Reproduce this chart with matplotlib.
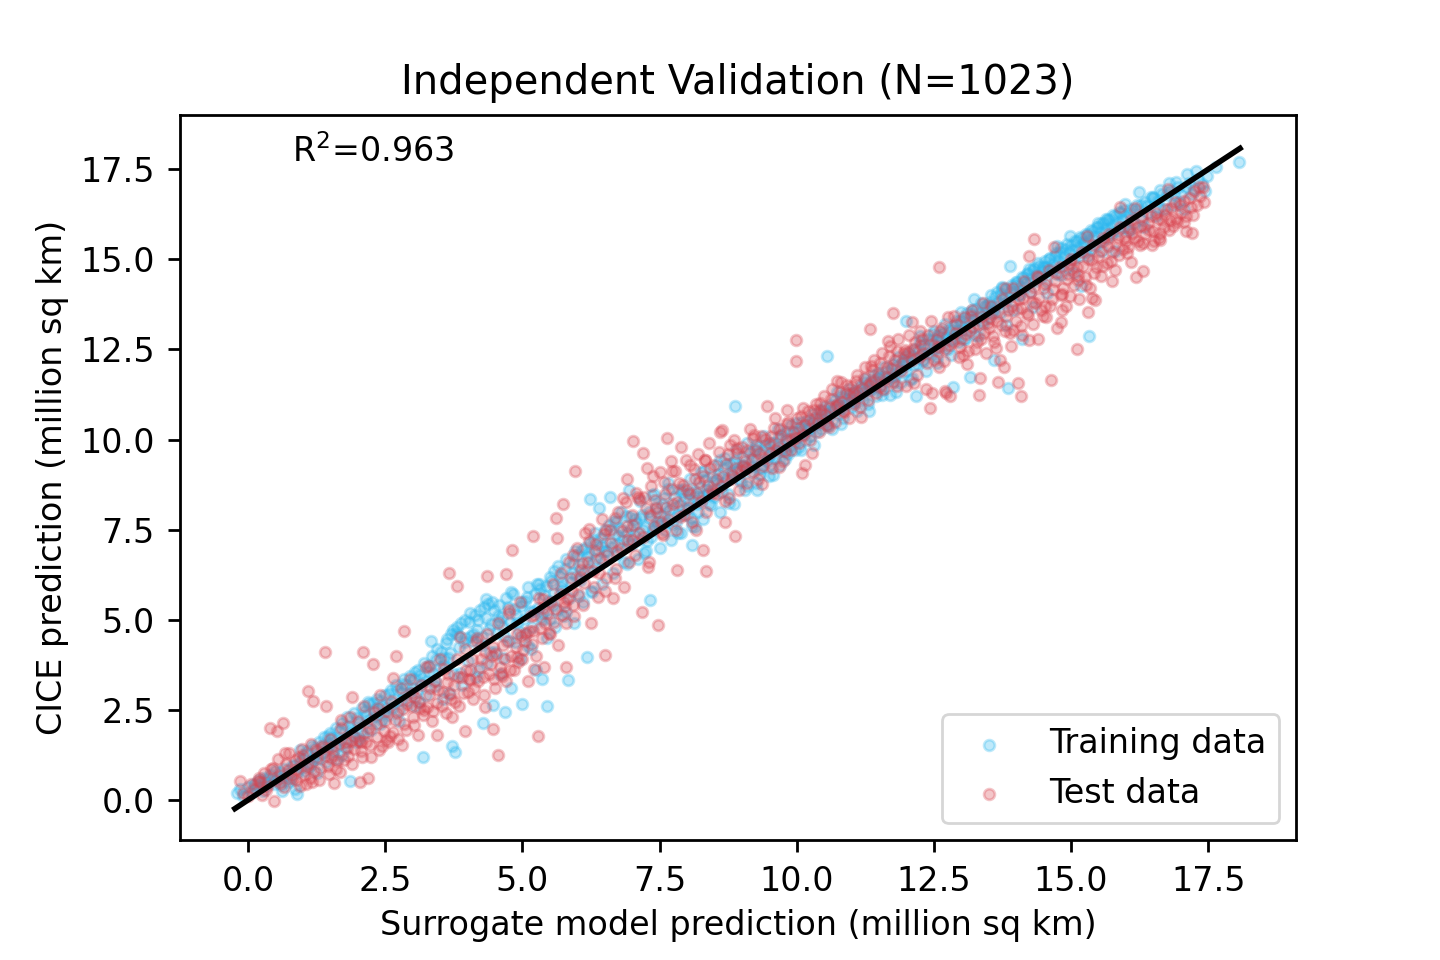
import numpy as np
import matplotlib
matplotlib.use("Agg")
from matplotlib import pyplot as plt

# points (surrogate, CICE), million sq km
train_points = [
    (-0.2, 0.19), (-0.15, 0.3), (-0.1, 0.12), (0.0, 0.35), (0.05, 0.22), (0.1, 0.45), (0.15, 0.3),
    (0.2, 0.55), (0.25, 0.38), (0.3, 0.62), (0.35, 0.45), (0.4, 0.7), (0.45, 0.52), (0.5, 0.8),
    (0.55, 0.6), (0.6, 0.42), (0.65, 0.85), (0.7, 0.68), (0.75, 0.5), (0.8, 0.95), (0.85, 0.3),
    (0.89, 0.17), (0.9, 0.75), (0.95, 1.05),
    (1.0, 1.15), (1.03, 0.8), (1.08, 1.35), (1.12, 0.95), (1.17, 1.5), (1.2, 1.2), (1.25, 0.75),
    (1.3, 1.6), (1.33, 1.3), (1.38, 1.75), (1.42, 1.05), (1.47, 1.55), (1.5, 1.85), (1.55, 1.35),
    (1.6, 2.0), (1.63, 1.15), (1.68, 1.7), (1.72, 2.15), (1.77, 1.45), (1.8, 2.3), (1.86, 0.53),
    (1.88, 1.9), (1.93, 2.4), (1.97, 1.6), (2.02, 2.15), (2.07, 2.55), (2.1, 1.8), (2.15, 2.35),
    (2.2, 2.65), (2.24, 1.95), (2.3, 2.5), (2.35, 2.8), (2.4, 2.1), (2.45, 2.6),
    (2.5, 2.9), (2.55, 2.35), (2.6, 3.05), (2.65, 2.7), (2.7, 3.2), (2.75, 2.5), (2.8, 3.0),
    (2.85, 3.35), (2.9, 2.75), (2.95, 3.45), (3.0, 3.1), (3.05, 2.6), (3.1, 3.6), (3.15, 3.25),
    (3.19, 1.19), (3.2, 3.8), (3.25, 2.9), (3.3, 3.55), (3.35, 4.0), (3.4, 3.3), (3.45, 4.2),
    (3.5, 3.7), (3.55, 2.8), (3.6, 4.35), (3.65, 3.95), (3.7, 4.6), (3.77, 1.33), (3.72, 1.5),
    (3.75, 3.5), (3.8, 4.8), (3.85, 4.25), (3.9, 3.2), (3.95, 5.0), (3.98, 4.5),
    (4.0, 3.85), (4.05, 5.2), (4.1, 4.6), (4.15, 3.4), (4.2, 5.0), (4.25, 4.3), (4.28, 2.13),
    (4.3, 5.35), (4.35, 3.8), (4.4, 4.75), (4.46, 2.64), (4.45, 5.5), (4.5, 4.1), (4.55, 5.1),
    (4.6, 3.5), (4.65, 4.8), (4.68, 2.44), (4.7, 5.6), (4.75, 4.4), (4.8, 3.1), (4.85, 5.3),
    (4.9, 4.9), (4.95, 3.9), (5.0, 2.67), (5.0, 5.5), (5.05, 4.6), (5.1, 5.9), (5.15, 4.2),
    (5.2, 5.25), (5.25, 3.6), (5.3, 6.0), (5.35, 3.36), (5.35, 5.0), (5.4, 5.7), (5.44, 2.61),
    (5.45, 4.5),
    (5.5, 6.2), (5.55, 5.4), (5.6, 4.8), (5.65, 6.5), (5.7, 5.9), (5.75, 5.1), (5.8, 6.7),
    (5.83, 3.33), (5.85, 5.6), (5.9, 6.3), (5.95, 4.9), (6.0, 6.8), (6.05, 6.1), (6.1, 5.5),
    (6.15, 7.0), (6.17, 3.97), (6.2, 6.4), (6.23, 8.36), (6.25, 5.8), (6.3, 7.2), (6.35, 6.7),
    (6.4, 8.1), (6.45, 6.0), (6.5, 7.5), (6.55, 6.9), (6.6, 8.4), (6.65, 6.3), (6.7, 7.7),
    (6.75, 7.1), (6.8, 8.0), (6.85, 6.6), (6.9, 7.4), (6.95, 8.6),
    (7.0, 7.1), (7.05, 7.8), (7.1, 6.7), (7.15, 8.3), (7.2, 7.5), (7.25, 6.9), (7.3, 8.0),
    (7.32, 5.56), (7.35, 7.3), (7.4, 8.5), (7.45, 7.7), (7.5, 7.0), (7.55, 8.2), (7.6, 7.5),
    (7.65, 8.8), (7.7, 7.2), (7.75, 8.1), (7.8, 7.7), (7.85, 8.6), (7.9, 7.4), (7.95, 8.3),
    (8.0, 7.9), (8.05, 8.9), (8.09, 7.08), (8.1, 7.6), (8.15, 8.4), (8.2, 8.0), (8.25, 9.1),
    (8.3, 7.8), (8.35, 8.6), (8.4, 8.2), (8.45, 9.0),
    (8.5, 8.4), (8.55, 9.3), (8.6, 8.0), (8.65, 8.8), (8.7, 9.5), (8.75, 8.5), (8.8, 9.1),
    (8.85, 8.2), (8.87, 10.93), (8.9, 9.7), (8.95, 8.9), (9.0, 9.3), (9.05, 8.6), (9.1, 9.9),
    (9.15, 9.1), (9.2, 9.5), (9.25, 8.8), (9.27, 8.6), (9.3, 9.8), (9.35, 9.2), (9.4, 10.1),
    (9.45, 9.4), (9.5, 9.0), (9.55, 9.9), (9.6, 9.5), (9.65, 10.3), (9.7, 9.3), (9.75, 9.8),
    (9.8, 10.2), (9.85, 9.6), (9.9, 10.4), (9.95, 9.9),
    (10.0, 10.2), (10.05, 9.8), (10.1, 10.5), (10.15, 10.0), (10.2, 10.4), (10.25, 10.1),
    (10.3, 10.7), (10.35, 10.2), (10.4, 10.6), (10.45, 10.3), (10.5, 10.9), (10.56, 12.33),
    (10.55, 10.4), (10.6, 10.8), (10.65, 10.28), (10.7, 11.1), (10.75, 10.7), (10.8, 11.2),
    (10.85, 10.6), (10.9, 11.0), (10.95, 11.4), (11.0, 10.9), (11.05, 11.3), (11.1, 10.8),
    (11.15, 11.5), (11.2, 11.1), (11.25, 11.6), (11.3, 11.0), (11.35, 11.4), (11.4, 11.8),
    (11.45, 11.2),
    (11.5, 11.7), (11.55, 11.25), (11.6, 12.0), (11.65, 11.6), (11.7, 11.25), (11.75, 12.1),
    (11.8, 11.8), (11.85, 12.3), (11.9, 11.6), (11.95, 12.2), (12.0, 13.3), (12.0, 11.9),
    (12.05, 12.4), (12.1, 11.7), (12.15, 12.5), (12.18, 11.22), (12.2, 12.1), (12.25, 12.7),
    (12.3, 12.2), (12.35, 11.9), (12.4, 12.8), (12.45, 12.4), (12.5, 13.0), (12.55, 12.3),
    (12.6, 12.9), (12.65, 12.6), (12.7, 13.2), (12.75, 12.5), (12.8, 13.0), (12.84, 11.47),
    (12.85, 12.8), (12.9, 13.3), (12.95, 12.7),
    (13.0, 13.2), (13.05, 12.8), (13.1, 13.5), (13.15, 11.75), (13.15, 13.1), (13.2, 13.6),
    (13.25, 12.9), (13.3, 13.4), (13.35, 13.8), (13.4, 13.2), (13.45, 13.7), (13.5, 13.4),
    (13.55, 14.0), (13.6, 12.22), (13.6, 13.6), (13.65, 14.1), (13.7, 13.5), (13.75, 14.2),
    (13.8, 13.8), (13.85, 11.42), (13.88, 14.81), (13.9, 14.1), (13.95, 13.6), (14.0, 14.3),
    (14.05, 14.0), (14.1, 14.5), (14.11, 12.78), (14.15, 14.2), (14.2, 14.6), (14.25, 14.1),
    (14.3, 14.7), (14.35, 14.4), (14.4, 14.9), (14.45, 14.5),
    (14.5, 14.8), (14.55, 14.4), (14.6, 15.0), (14.65, 14.7), (14.7, 15.1), (14.75, 14.6),
    (14.8, 15.2), (14.85, 14.9), (14.9, 15.3), (14.95, 14.8), (15.0, 15.4), (15.05, 15.0),
    (15.1, 15.5), (15.15, 15.1), (15.19, 14.25), (15.2, 15.6), (15.25, 15.2), (15.3, 15.7),
    (15.33, 12.86), (15.35, 15.3), (15.4, 15.8), (15.45, 15.4), (15.5, 15.9), (15.55, 15.5),
    (15.6, 16.0), (15.64, 16.11), (15.65, 15.6), (15.7, 16.1), (15.75, 15.7), (15.8, 16.2),
    (15.85, 15.8), (15.9, 16.3), (15.95, 15.9),
    (16.0, 16.2), (16.05, 15.8), (16.1, 16.4), (16.15, 16.0), (16.2, 16.5), (16.3, 16.1),
    (16.35, 16.6), (16.4, 16.3), (16.5, 16.7), (16.55, 16.2), (16.65, 16.8), (16.7, 16.4),
    (16.8, 16.9), (16.85, 16.5), (16.92, 17.14), (17.0, 16.8), (17.05, 16.4), (17.1, 17.0),
    (17.2, 16.8), (17.28, 17.44), (17.39, 17.08), (17.45, 16.9), (17.65, 17.56), (18.07, 17.69),
    # dense core along the diagonal
    (0.13, 0.41), (0.27, 0.25), (0.37, 0.58), (0.48, 0.44), (0.58, 0.77), (0.69, 0.55),
    (0.77, 0.62), (0.83, 0.98), (0.97, 0.88), (1.06, 1.28), (1.14, 1.02), (1.22, 1.44),
    (1.29, 1.13), (1.36, 1.52), (1.44, 1.38), (1.52, 1.71), (1.58, 1.49), (1.66, 1.92),
    (1.74, 1.58), (1.82, 2.05), (1.91, 1.78), (1.99, 2.28), (2.06, 1.92), (2.13, 2.47),
    (2.21, 2.21), (2.27, 2.68), (2.33, 2.33), (2.41, 2.74), (2.48, 2.42), (2.57, 2.93),
    (2.63, 2.55), (2.71, 3.04), (2.79, 2.78), (2.87, 3.18), (2.93, 2.96), (3.02, 3.37),
    (3.08, 3.02), (3.13, 3.48), (3.22, 3.31), (3.28, 3.72), (3.37, 3.52), (3.43, 3.88),
    (3.52, 4.12), (3.58, 3.74), (3.63, 4.48), (3.69, 4.08), (3.74, 4.72), (3.83, 4.58),
    (3.88, 4.91), (3.93, 4.38),
    (4.03, 4.95), (4.08, 4.42), (4.13, 5.12), (4.18, 4.71), (4.23, 5.28), (4.27, 4.52),
    (4.33, 5.06), (4.38, 5.43), (4.42, 4.88), (4.48, 5.27), (4.53, 4.63), (4.58, 5.42),
    (4.63, 5.08), (4.67, 4.55), (4.73, 5.36), (4.78, 4.93), (4.83, 5.71), (4.88, 5.14),
    (4.93, 4.68), (4.98, 5.38), (5.03, 5.02), (5.08, 5.63), (5.13, 5.22), (5.18, 4.81),
    (5.23, 5.72), (5.28, 5.33), (5.33, 5.86), (5.38, 5.18), (5.43, 5.95), (5.48, 5.52),
    (5.53, 6.08), (5.58, 5.73), (5.63, 5.28), (5.68, 6.22), (5.73, 5.84), (5.78, 6.41),
    (5.88, 6.05), (5.93, 6.58), (5.98, 6.22),
    (6.03, 6.51), (6.08, 6.93), (6.13, 6.32), (6.18, 6.77), (6.24, 7.12), (6.28, 6.58),
    (6.33, 7.41), (6.38, 6.95), (6.43, 7.28), (6.48, 6.62), (6.53, 7.15), (6.58, 7.62),
    (6.63, 7.02), (6.68, 7.38), (6.73, 6.82), (6.78, 7.55), (6.83, 7.22), (6.88, 7.88),
    (6.93, 7.08), (6.98, 7.52), (7.03, 7.35), (7.08, 7.68), (7.13, 7.22), (7.18, 7.91),
    (7.23, 7.58), (7.28, 7.19), (7.33, 7.82), (7.38, 7.48), (7.43, 8.12), (7.48, 7.62),
    (7.53, 7.88), (7.58, 8.38), (7.63, 7.71), (7.68, 8.05), (7.73, 7.66), (7.78, 8.42),
    (7.83, 7.92), (7.88, 8.18), (7.93, 8.62), (7.98, 8.08), (8.03, 8.32), (8.08, 7.82),
    (8.13, 8.58), (8.18, 8.21), (8.23, 8.69), (8.28, 8.41), (8.33, 8.88), (8.38, 8.52),
    (8.43, 8.18), (8.48, 8.81), (8.53, 8.62), (8.58, 9.05), (8.63, 8.55), (8.68, 9.18),
    (8.73, 8.87), (8.78, 9.32), (8.83, 8.98), (8.88, 9.41), (8.93, 9.12), (8.98, 8.82),
    (9.03, 9.52), (9.08, 9.21), (9.13, 9.62), (9.18, 9.28), (9.23, 9.71), (9.28, 9.42),
    (9.33, 9.05), (9.38, 9.68), (9.43, 9.82), (9.48, 9.52), (9.53, 9.32), (9.58, 9.91),
    (9.63, 9.62), (9.68, 10.08), (9.73, 9.71), (9.78, 9.45), (9.83, 10.02), (9.88, 9.82),
    (9.93, 10.22), (9.97, 9.72), (10.03, 10.08), (10.08, 10.31), (10.13, 10.15), (10.18, 10.52),
    (10.23, 10.33), (10.28, 10.48), (10.33, 10.61), (10.38, 10.42), (10.43, 10.78), (10.48, 10.55),
    (10.53, 10.71), (10.58, 10.62), (10.63, 10.95), (10.68, 10.82), (10.73, 10.95), (10.78, 10.88),
    (10.83, 11.15), (10.88, 10.92), (10.93, 11.12), (10.98, 11.28), (11.03, 11.08), (11.08, 11.35),
    (11.13, 11.22), (11.18, 11.42), (11.23, 11.31), (11.28, 11.55), (11.33, 11.38), (11.38, 11.62),
    (11.43, 11.48), (11.48, 11.72), (11.53, 11.52), (11.58, 11.75), (11.63, 11.88), (11.68, 11.71),
    (11.73, 11.95), (11.78, 11.62), (11.83, 12.05), (11.88, 11.92), (11.93, 12.15), (11.98, 12.04),
    (12.03, 12.18), (12.08, 12.32), (12.13, 12.08), (12.22, 12.48), (12.27, 12.35), (12.32, 12.62),
    (12.37, 12.38), (12.42, 12.65), (12.47, 12.75), (12.52, 12.52), (12.57, 12.88), (12.62, 12.71),
    (12.67, 12.96), (12.72, 12.82), (12.77, 13.08), (12.82, 12.75), (12.87, 13.15), (12.92, 13.02),
    (12.97, 13.28), (13.02, 13.05), (13.07, 13.38), (13.12, 13.25), (13.17, 13.52), (13.22, 13.31),
    (13.27, 13.62), (13.32, 13.48), (13.37, 13.28), (13.42, 13.72), (13.47, 13.55), (13.52, 13.82),
    (13.57, 13.68), (13.62, 13.95), (13.67, 13.78), (13.72, 14.05), (13.77, 13.88), (13.82, 14.18),
    (13.87, 13.95), (13.92, 14.28), (13.97, 14.08), (14.02, 14.38), (14.07, 14.22), (14.12, 14.48),
    (14.17, 14.35), (14.22, 14.62), (14.27, 14.45), (14.32, 14.75), (14.37, 14.58), (14.42, 14.82),
    (14.47, 14.68), (14.52, 14.95), (14.57, 14.78), (14.62, 15.05), (14.67, 14.88), (14.72, 15.18),
    (14.77, 14.98), (14.82, 15.32), (14.87, 15.08), (14.92, 15.42), (14.97, 15.21),
    (15.02, 15.25), (15.07, 15.52), (15.12, 15.31), (15.17, 15.62), (15.22, 15.42), (15.27, 15.71),
    (15.32, 15.51), (15.37, 15.82), (15.42, 15.61), (15.47, 15.91), (15.52, 15.72), (15.57, 16.02),
    (15.62, 15.82), (15.67, 16.12), (15.72, 15.91), (15.77, 16.22), (15.82, 16.02), (15.87, 16.31),
    (15.92, 16.08), (15.97, 16.38), (16.08, 16.25), (16.18, 16.38), (16.28, 16.52), (16.38, 16.48),
    (16.45, 16.72), (16.58, 16.61), (16.62, 16.92), (16.75, 16.78), (16.88, 16.82), (16.95, 17.02),
    (17.15, 17.12), (17.32, 17.22),
    # wider scatter around the core
    (0.31, 0.52), (0.62, 0.26), (0.94, 1.38), (1.19, 1.11), (1.46, 1.78), (1.71, 1.24),
    (1.88, 1.98), (2.03, 1.69), (2.18, 2.72), (2.44, 2.21), (2.52, 2.56), (2.76, 2.19),
    (2.83, 3.21), (3.04, 3.55), (3.11, 2.72), (3.33, 4.41), (3.41, 3.15), (3.57, 3.95),
    (3.66, 2.98), (3.79, 4.62), (3.86, 3.52), (4.07, 4.55), (4.19, 3.62), (4.34, 5.58),
    (4.41, 4.12), (4.57, 4.96), (4.64, 3.95), (4.79, 5.78), (4.86, 4.38), (5.04, 5.52),
    (5.11, 4.27), (5.27, 5.98), (5.34, 5.08), (5.51, 5.02), (5.57, 6.35), (5.72, 6.05),
    (5.79, 5.22), (5.96, 6.92), (6.04, 5.66), (6.19, 6.84), (6.27, 5.78), (6.44, 7.05),
    (6.51, 6.92), (6.67, 7.75), (6.74, 7.32), (6.91, 6.55), (6.97, 7.86), (7.14, 7.82),
    (7.21, 6.85), (7.36, 8.45), (7.44, 7.58), (7.59, 7.92), (7.66, 8.62), (7.83, 7.42),
    (7.91, 8.55), (8.06, 8.52), (8.14, 7.58), (8.31, 9.12), (8.39, 8.48), (8.54, 8.88),
    (8.61, 9.42), (8.77, 8.25), (8.84, 9.35), (9.02, 9.28), (9.09, 8.72), (9.26, 9.85),
    (9.34, 9.22), (9.51, 9.82), (9.57, 9.02), (9.74, 10.12), (9.81, 9.62), (9.99, 10.46),
    (10.07, 9.72), (10.24, 10.28), (10.31, 9.85), (10.49, 10.82), (10.57, 10.41), (10.74, 11.31),
    (10.81, 10.44), (10.99, 11.21), (11.07, 11.05), (11.24, 11.68), (11.31, 10.78), (11.49, 11.85),
    (11.56, 11.38), (11.74, 11.77), (11.81, 11.32), (11.99, 12.31), (12.06, 11.64), (12.24, 12.86),
    (12.31, 12.21), (12.49, 12.93), (12.56, 12.12), (12.74, 12.88), (12.81, 12.34), (12.99, 13.53),
    (13.06, 12.78), (13.24, 13.91), (13.31, 12.88), (13.49, 13.74), (13.56, 13.52), (13.74, 14.24),
    (13.81, 13.19), (13.99, 14.37), (14.06, 14.02), (14.24, 14.73), (14.31, 13.69), (14.49, 14.78),
    (14.56, 14.07), (14.74, 15.36), (14.81, 14.58), (14.99, 15.65), (15.06, 14.63), (15.24, 15.49),
    (15.31, 15.08), (15.49, 16.02), (15.56, 15.22), (15.74, 15.77), (15.81, 15.24), (15.99, 16.53),
    (16.06, 15.83), (16.24, 16.88), (16.33, 15.89), (16.49, 16.74), (16.61, 16.42), (16.79, 17.12),
    (16.97, 16.58), (17.12, 17.38), (17.24, 16.95), (17.48, 17.32),
]

test_points = [
    (-0.15, 0.53), (-0.1, 0.2), (0.0, 0.1), (0.05, 0.45), (0.1, 0.3), (0.2, 0.6), (0.25, 0.15),
    (0.3, 0.75), (0.35, 0.4), (0.4, 2.0), (0.45, 0.9), (0.5, 0.55), (0.52, 1.92), (0.55, 1.15),
    (0.6, 0.7), (0.64, 2.13), (0.65, 0.35), (0.7, 1.0), (0.75, 1.3), (0.8, 0.6), (0.85, 1.1),
    (0.9, 0.85), (0.95, 0.4),
    (1.0, 1.25), (1.02, 0.7), (1.05, 0.45), (1.09, 3.03), (1.1, 1.0), (1.15, 1.55), (1.18, 2.75),
    (1.2, 0.8), (1.25, 1.2), (1.3, 0.55), (1.35, 1.45), (1.4, 4.11), (1.43, 2.61), (1.45, 0.95),
    (1.5, 1.7), (1.55, 1.25), (1.57, 0.47), (1.6, 0.85), (1.65, 1.55), (1.7, 2.0), (1.75, 1.1),
    (1.8, 1.45), (1.85, 2.3), (1.89, 2.87), (1.9, 1.0), (1.95, 1.75), (2.0, 2.2), (2.04, 0.5),
    (2.05, 1.35), (2.1, 4.1), (2.12, 2.6), (2.15, 1.6), (2.2, 2.0), (2.25, 1.2), (2.28, 3.78),
    (2.3, 2.45), (2.35, 1.75), (2.4, 2.9), (2.45, 1.5),
    (2.5, 2.2), (2.55, 1.6), (2.6, 2.75), (2.65, 1.9), (2.7, 4.0), (2.72, 2.4), (2.78, 3.1),
    (2.84, 4.69), (2.85, 2.1), (2.9, 2.65), (2.95, 3.35), (3.0, 2.3), (3.05, 2.85), (3.1, 1.8),
    (3.15, 3.2), (3.2, 2.5), (3.25, 3.7), (3.3, 2.9), (3.35, 2.2), (3.4, 3.3), (3.45, 2.7),
    (3.5, 3.9), (3.55, 3.0), (3.6, 2.4), (3.66, 6.3), (3.65, 3.5), (3.7, 2.8), (3.8, 5.94),
    (3.75, 3.2), (3.8, 3.9), (3.85, 2.6), (3.9, 3.4), (3.95, 1.92), (3.95, 4.2),
    (4.0, 3.0), (4.05, 3.6), (4.1, 2.8), (4.15, 4.4), (4.2, 3.3), (4.25, 3.9), (4.3, 2.9),
    (4.35, 6.22), (4.35, 4.6), (4.4, 3.5), (4.46, 1.97), (4.45, 4.0), (4.5, 3.1), (4.55, 1.25),
    (4.55, 4.9), (4.6, 3.7), (4.65, 4.3), (4.7, 6.28), (4.7, 3.3), (4.75, 5.2), (4.81, 6.94),
    (4.8, 4.0), (4.85, 3.6), (4.9, 4.6), (4.95, 5.5), (5.0, 3.9), (5.05, 4.4), (5.1, 3.3),
    (5.15, 5.1), (5.19, 7.33), (5.2, 4.7), (5.28, 1.78), (5.25, 4.0), (5.3, 5.6), (5.35, 4.5),
    (5.4, 3.7), (5.45, 5.2),
    (5.5, 4.6), (5.55, 6.0), (5.62, 7.83), (5.6, 5.3), (5.65, 4.3), (5.74, 8.22), (5.7, 6.3),
    (5.75, 5.5), (5.8, 3.7), (5.8, 4.9), (5.85, 6.6), (5.9, 5.8), (5.96, 9.12), (5.95, 5.1),
    (6.0, 7.0), (6.05, 6.2), (6.1, 5.4), (6.15, 7.4), (6.2, 6.6), (6.25, 4.9), (6.3, 5.9),
    (6.35, 7.1), (6.4, 6.3), (6.45, 7.8), (6.5, 4.03), (6.5, 5.8), (6.55, 6.8), (6.6, 7.5),
    (6.65, 5.6), (6.7, 6.4), (6.75, 8.0), (6.8, 7.0), (6.85, 5.9), (6.9, 8.9), (6.9, 7.6),
    (6.95, 6.6),
    (7.02, 9.97), (7.0, 7.9), (7.05, 6.8), (7.1, 8.4), (7.18, 5.22), (7.2, 9.63), (7.2, 7.3),
    (7.25, 8.1), (7.28, 9.22), (7.3, 6.6), (7.35, 8.7), (7.4, 7.6), (7.45, 8.0), (7.47, 4.86),
    (7.5, 9.1), (7.55, 7.4), (7.6, 8.5), (7.63, 10.03), (7.65, 7.8), (7.7, 9.4), (7.75, 8.2),
    (7.81, 6.39), (7.8, 7.5), (7.85, 8.8), (7.9, 9.8), (7.95, 7.9), (8.0, 8.6), (8.05, 9.3),
    (8.1, 7.7), (8.15, 8.9), (8.2, 9.6), (8.25, 8.3), (8.29, 6.94), (8.34, 6.36), (8.3, 9.0),
    (8.35, 8.0), (8.4, 9.9), (8.45, 8.6),
    (8.5, 9.3), (8.55, 8.5), (8.6, 10.2), (8.65, 9.0), (8.69, 7.72), (8.7, 8.3), (8.75, 9.6),
    (8.8, 8.9), (8.87, 7.33), (8.85, 10.0), (8.9, 9.2), (8.95, 8.6), (9.0, 9.8), (9.05, 9.4),
    (9.1, 8.8), (9.15, 10.3), (9.2, 9.1), (9.25, 9.7), (9.3, 8.9), (9.35, 10.1), (9.45, 10.94),
    (9.4, 9.5), (9.5, 9.9), (9.55, 9.2), (9.6, 10.6), (9.65, 9.8), (9.7, 10.3), (9.75, 9.4),
    (9.8, 10.0), (9.85, 10.5), (9.9, 9.7), (9.98, 12.75), (9.98, 12.17), (9.95, 10.2),
    (10.0, 10.6), (10.05, 9.9), (10.1, 9.06), (10.15, 9.3), (10.15, 10.4), (10.2, 10.8),
    (10.25, 10.0), (10.3, 10.5), (10.35, 11.0), (10.4, 10.2), (10.45, 10.7), (10.5, 11.2),
    (10.55, 10.4), (10.6, 10.9), (10.65, 11.4), (10.7, 10.5), (10.75, 11.0), (10.8, 11.6),
    (10.85, 10.8), (10.9, 11.3), (10.95, 10.6), (11.0, 11.5), (11.05, 11.0), (11.1, 11.8),
    (11.15, 10.9), (11.2, 11.4), (11.25, 12.0), (11.3, 11.1), (11.33, 13.08), (11.35, 11.6),
    (11.4, 12.2), (11.45, 11.3),
    (11.5, 11.8), (11.55, 12.4), (11.6, 11.4), (11.65, 12.0), (11.75, 13.5), (11.7, 12.6),
    (11.75, 11.6), (11.8, 12.2), (11.85, 12.8), (11.9, 11.9), (11.95, 12.4), (12.0, 11.5),
    (12.05, 12.9), (12.11, 13.25), (12.1, 12.2), (12.15, 12.7), (12.2, 11.8), (12.25, 13.0),
    (12.3, 12.4), (12.35, 11.4), (12.4, 12.9), (12.46, 11.3), (12.45, 13.3), (12.5, 12.2),
    (12.55, 12.8), (12.6, 14.8), (12.6, 12.0), (12.65, 13.1), (12.73, 11.3), (12.7, 12.5),
    (12.75, 13.4), (12.8, 11.2), (12.85, 12.7), (12.9, 13.2), (12.95, 12.3),
    (13.0, 12.8), (13.05, 13.4), (13.1, 12.1), (13.15, 13.0), (13.2, 13.6), (13.25, 12.5),
    (13.33, 11.25), (13.3, 13.2), (13.35, 12.8), (13.4, 13.8), (13.45, 12.4), (13.5, 13.1),
    (13.55, 13.7), (13.6, 12.7), (13.66, 11.6), (13.65, 13.3), (13.7, 12.2), (13.77, 12.0),
    (13.75, 13.9), (13.8, 13.0), (13.85, 13.6), (13.9, 12.6), (13.95, 14.2), (14.04, 11.58),
    (14.0, 13.3), (14.09, 11.2), (14.05, 13.9), (14.1, 12.9), (14.15, 14.4), (14.2, 13.5),
    (14.24, 15.08), (14.25, 14.1), (14.33, 15.56), (14.3, 13.2), (14.39, 12.8), (14.35, 13.8),
    (14.4, 14.5), (14.45, 13.6),
    (14.5, 14.2), (14.55, 13.4), (14.64, 11.64), (14.6, 14.7), (14.65, 13.9), (14.7, 14.4),
    (14.75, 13.1), (14.82, 13.25), (14.84, 14.03), (14.8, 14.8), (14.85, 14.2), (14.9, 13.7),
    (14.95, 14.6), (15.0, 15.0), (15.05, 14.3), (15.1, 12.5), (15.1, 14.8), (15.15, 13.9),
    (15.2, 15.2), (15.25, 14.5), (15.3, 13.53), (15.3, 15.0), (15.35, 14.2), (15.39, 13.92),
    (15.4, 15.4), (15.45, 14.8), (15.5, 15.1), (15.55, 14.53), (15.6, 15.5), (15.65, 14.9),
    (15.7, 15.7), (15.75, 15.2), (15.8, 14.7), (15.85, 15.6), (15.9, 15.9), (15.95, 15.3),
    (16.0, 15.5), (16.05, 15.9), (16.1, 14.92), (16.1, 16.1), (16.15, 15.6), (16.19, 14.5),
    (16.2, 15.9), (16.25, 15.4), (16.3, 16.2), (16.35, 15.7), (16.4, 16.0), (16.48, 15.39),
    (16.5, 15.8), (16.55, 16.3), (16.6, 15.6), (16.65, 16.1), (16.7, 15.9), (16.75, 16.4),
    (16.85, 15.92), (16.8, 16.1), (16.9, 16.6), (17.0, 16.3), (17.1, 15.78), (17.1, 16.2),
    (17.15, 16.7), (17.25, 16.9), (17.3, 16.5), (17.4, 17.0),
    # dense core
    (0.18, 0.52), (0.33, 0.28), (0.42, 0.85), (0.58, 0.48), (0.72, 0.82), (0.87, 0.55),
    (0.93, 1.18), (1.07, 0.92), (1.13, 0.62), (1.23, 1.38), (1.32, 0.88), (1.41, 1.22),
    (1.48, 0.72), (1.53, 1.48), (1.62, 1.08), (1.67, 0.78), (1.78, 1.62), (1.83, 1.21),
    (1.93, 1.42), (2.02, 1.65), (2.08, 1.18), (2.17, 1.88), (2.23, 1.52), (2.33, 2.12),
    (2.38, 1.38), (2.47, 1.92), (2.53, 2.48), (2.58, 1.78), (2.67, 2.22), (2.73, 1.68),
    (2.82, 2.52), (2.88, 1.95), (2.97, 2.62), (3.03, 2.08), (3.12, 2.72), (3.18, 2.35),
    (3.27, 2.58), (3.32, 3.12), (3.38, 2.48), (3.47, 3.05), (3.53, 2.62), (3.62, 3.28),
    (3.68, 2.95), (3.77, 2.72), (3.83, 3.42), (3.92, 2.98), (3.97, 3.62),
    (4.02, 3.35), (4.08, 3.92), (4.12, 3.12), (4.22, 3.68), (4.28, 3.42), (4.32, 4.12),
    (4.42, 3.78), (4.48, 3.35), (4.52, 4.05), (4.62, 3.45), (4.68, 3.92), (4.72, 4.42),
    (4.78, 3.62), (4.88, 4.25), (4.92, 3.82), (4.98, 4.55), (5.02, 4.15), (5.12, 4.68),
    (5.18, 4.32), (5.22, 5.12), (5.32, 4.78), (5.38, 5.32), (5.42, 4.92), (5.52, 5.48),
    (5.58, 4.95), (5.68, 5.72), (5.72, 5.12), (5.82, 5.58), (5.88, 6.15), (5.92, 5.42),
    (6.02, 5.72), (6.08, 6.58), (6.12, 6.02), (6.22, 7.18), (6.28, 6.35), (6.32, 6.92),
    (6.42, 6.72), (6.48, 7.38), (6.52, 6.15), (6.62, 7.12), (6.68, 7.82), (6.72, 6.92),
    (6.82, 7.45), (6.88, 8.28), (6.92, 7.22), (7.02, 7.62), (7.08, 8.52), (7.12, 7.42),
    (7.22, 8.42), (7.32, 7.92), (7.38, 8.98), (7.42, 8.32), (7.52, 7.72), (7.58, 8.82),
    (7.62, 8.12), (7.72, 8.62), (7.78, 9.12), (7.82, 8.28), (7.92, 8.75), (7.98, 9.42),
    (8.02, 8.12), (8.12, 9.18), (8.18, 8.52), (8.22, 8.82), (8.32, 9.42), (8.38, 8.72),
    (8.42, 9.22), (8.52, 8.92), (8.58, 9.65), (8.62, 8.72), (8.72, 9.32), (8.78, 9.85),
    (8.82, 9.02), (8.92, 9.62), (8.98, 9.12),
    (9.02, 9.28), (9.12, 9.72), (9.18, 9.42), (9.22, 10.12), (9.32, 9.62), (9.38, 9.28),
    (9.42, 10.02), (9.52, 9.62), (9.58, 10.32), (9.62, 9.72), (9.72, 10.12), (9.78, 9.68),
    (9.82, 10.42), (9.92, 10.02), (10.02, 10.32), (10.08, 10.65), (10.12, 10.12), (10.22, 10.58),
    (10.32, 10.82), (10.38, 10.48), (10.42, 11.02), (10.52, 10.72), (10.62, 11.12), (10.72, 10.92),
    (10.78, 11.32), (10.82, 11.05), (10.92, 11.52), (11.02, 11.18), (11.08, 11.62), (11.12, 11.32),
    (11.22, 11.72), (11.32, 11.52), (11.38, 11.92), (11.42, 11.62), (11.52, 12.12), (11.62, 11.72),
    (11.68, 12.32), (11.72, 11.98), (11.82, 12.45), (11.92, 12.12),
    (12.02, 12.42), (12.12, 12.52), (12.22, 12.28), (12.28, 12.78), (12.38, 12.12), (12.48, 12.62),
    (12.58, 12.45), (12.62, 13.02), (12.68, 12.18), (12.78, 12.62), (12.88, 12.95), (12.98, 12.58),
    (13.08, 12.92), (13.12, 12.45), (13.22, 13.12), (13.28, 12.72), (13.38, 13.42), (13.42, 12.95),
    (13.52, 13.38), (13.58, 12.88), (13.62, 13.52), (13.72, 13.18), (13.82, 13.42), (13.88, 12.95),
    (13.92, 13.72), (14.02, 13.62), (14.08, 13.15), (14.12, 13.92), (14.22, 13.45), (14.28, 13.82),
    (14.32, 14.22), (14.42, 13.92), (14.48, 13.42), (14.52, 14.32), (14.62, 13.72), (14.68, 14.18),
    (14.72, 14.62), (14.82, 14.02), (14.92, 14.45), (14.98, 13.98), (15.02, 14.72), (15.12, 14.42),
    (15.22, 14.82), (15.28, 14.28), (15.38, 14.98), (15.42, 14.62), (15.52, 15.22), (15.58, 14.82),
    (15.68, 15.38), (15.72, 14.95), (15.82, 15.42), (15.88, 15.12), (15.98, 15.62), (16.02, 15.18),
    (16.12, 15.72), (16.22, 15.52), (16.28, 15.92), (16.32, 15.45), (16.42, 15.82), (16.52, 15.52),
    (16.58, 16.12), (16.62, 15.72), (16.72, 16.22), (16.78, 15.82), (16.82, 16.42), (16.92, 16.12),
    (16.98, 16.52), (17.05, 16.05), (17.18, 16.45), (17.22, 16.22), (17.35, 16.75), (17.42, 16.58),
    # wider scatter
    (0.22, 0.51), (0.47, -0.03), (0.68, 1.30), (0.81, 0.70), (0.98, 1.42), (1.16, 0.50),
    (1.34, 1.49), (1.51, 1.17), (1.69, 2.23), (1.87, 1.64), (2.06, 1.62), (2.19, 0.62),
    (2.36, 2.56), (2.51, 1.66), (2.64, 3.38), (2.81, 1.52), (2.99, 2.96), (3.14, 2.56),
    (3.29, 3.71), (3.44, 1.80), (3.58, 3.63), (3.71, 2.29), (3.87, 4.51), (4.04, 3.34),
    (4.18, 4.50), (4.31, 2.59), (4.47, 4.24), (4.63, 3.51), (4.76, 5.26), (4.91, 3.98),
    (5.06, 4.62), (5.21, 3.64), (5.37, 5.57), (5.48, 4.63), (5.64, 7.28), (5.78, 5.39),
    (5.93, 6.80), (6.07, 6.39), (6.21, 7.53), (6.37, 5.63), (6.53, 7.48), (6.69, 6.17),
    (6.84, 8.38), (6.99, 7.20), (7.13, 8.35), (7.29, 6.47), (7.44, 8.11), (7.57, 7.35),
    (7.73, 9.13), (7.88, 7.85), (8.03, 8.50), (8.17, 7.50), (8.33, 9.43), (8.47, 8.52),
    (8.63, 10.27), (8.76, 8.37), (8.91, 9.78), (9.07, 9.22), (9.21, 10.05), (9.36, 8.77),
    (9.53, 10.11), (9.67, 9.23), (9.83, 10.82), (9.96, 10.03), (10.11, 10.88), (10.27, 9.62),
    (10.43, 10.82), (10.58, 10.35), (10.73, 11.62), (10.87, 10.77), (11.03, 11.28), (11.18, 10.64),
    (11.36, 12.05), (11.51, 11.47), (11.67, 12.73), (11.83, 11.48), (11.97, 12.49), (12.13, 11.56),
    (12.27, 12.62), (12.43, 10.87), (12.57, 12.57), (12.71, 11.36), (12.87, 13.43), (13.03, 12.35),
    (13.18, 13.44), (13.34, 11.71), (13.48, 13.23), (13.63, 12.55), (13.79, 14.21), (13.94, 13.04),
    (14.08, 13.64), (14.23, 12.75), (14.38, 14.53), (14.53, 13.71), (14.69, 15.33), (14.83, 13.60),
    (14.98, 14.91), (15.13, 14.56), (15.29, 15.64), (15.43, 13.87), (15.59, 15.59), (15.74, 14.39),
    (15.89, 16.45), (16.03, 15.35), (16.17, 16.43), (16.31, 14.68), (16.46, 16.21), (16.63, 15.55),
    (16.77, 16.95), (16.93, 16.03), (17.06, 16.62), (17.21, 15.73), (17.33, 17.02),
]

line_ends = [-0.24, 18.08]
r2 = 0.963
n_total = 1023

train = np.array(train_points)
test = np.array(test_points)

plt.rcParams['font.size'] = 12
plt.rcParams['axes.linewidth'] = 1.0
fig = plt.figure(figsize=(7.2, 4.8), dpi=200)
ax = fig.add_subplot(111)
fig.subplots_adjust(left=0.125, right=0.9, top=0.88, bottom=0.125)

ax.scatter(train[:, 0], train[:, 1], s=15, color='#2cb8ef', alpha=0.3, linewidths=1,
           label='Training data')
ax.scatter(test[:, 0], test[:, 1], s=15, color='#d9434e', alpha=0.3, linewidths=1,
           label='Test data')
ax.plot(line_ends, line_ends, color='k', lw=2)

ax.text(0.1, 0.935, 'R$^2$=%.3f' % r2, transform=ax.transAxes)
ax.set_title('Independent Validation (N=%d)' % n_total, fontsize=14.4, pad=7.5)
ax.set_xlabel('Surrogate model prediction (million sq km)')
ax.set_ylabel('CICE prediction (million sq km)')
ax.set_xticks(np.arange(0, 17.6, 2.5))
ax.set_yticks(np.arange(0, 17.6, 2.5))
ax.tick_params(length=4.3, width=1.0, pad=4.8)
ax.set_xlim(-1.24, 19.1)
ax.set_ylim(-1.11, 19.0)
ax.legend(loc='lower right')

fig.savefig('out.png', dpi=200)
